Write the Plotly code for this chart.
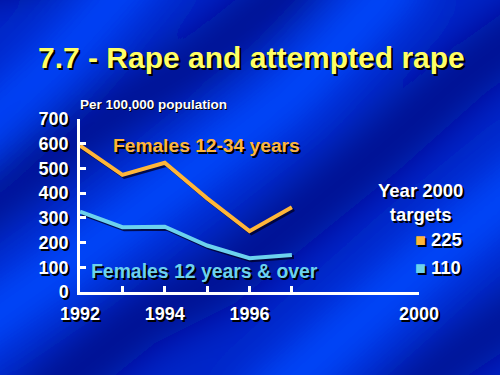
import base64
import plotly.graph_objects as go

# ---- data ----
years = [1992, 1993, 1994, 1995, 1996, 1997]
females_12_34 = [592, 474, 523, 379, 246, 343]
females_12_over = [325, 262, 264, 188, 137, 150]
target_labels = ["Females 12-34 years", "Females 12 years & over"]
targets_2000 = [225, 110]
x_tick_vals = [1992, 1993, 1994, 1995, 1996, 1997, 2000]
x_tick_text = ["1992", "", "1994", "", "1996", "", "2000"]
y_tick_vals = [0, 100, 200, 300, 400, 500, 600, 700]

ORANGE = "#FFB63A"
CYAN = "#6CD2EE"
YELLOW = "#FFFF66"
SHADOW = "2px 2px 0px #000000"
FONT = "Liberation Sans, Arial, sans-serif"

W, H = 500, 375
ML, MR, MT, MB = 80, 81, 119, 83
PW, PH = W - ML - MR, H - MT - MB

# ---- background (wavy diagonal blue gradient) ----
svg = f"""<svg xmlns='http://www.w3.org/2000/svg' width='{W}' height='{H}' viewBox='0 0 {W} {H}'>
<defs><filter id='b' x='-50%' y='-50%' width='200%' height='200%'><feGaussianBlur stdDeviation='22'/></filter></defs>
<rect width='{W}' height='{H}' fill='rgb(0,38,200)'/>
<g filter='url(#b)' fill='none' stroke-linecap='round'>
<polyline points='-60,-40 40,-60' stroke='rgb(0,8,130)' stroke-width='90'/>
<polyline points='-40,150 60,60 150,-40' stroke='rgb(0,70,255)' stroke-width='50'/>
<polyline points='-40,220 100,120 200,60 300,-20' stroke='rgb(0,10,140)' stroke-width='50'/>
<polyline points='-40,340 60,270 160,195 290,95 400,-20' stroke='rgb(0,72,255)' stroke-width='55'/>
<polyline points='40,400 140,320 220,280 300,215 380,150 470,70 540,20' stroke='rgb(0,10,140)' stroke-width='55'/>
<polyline points='260,410 350,330 430,260 540,170' stroke='rgb(0,72,255)' stroke-width='55'/>
<polyline points='380,420 450,360 540,300' stroke='rgb(0,10,140)' stroke-width='45'/>
</g></svg>"""
bg_src = "data:image/svg+xml;base64," + base64.b64encode(svg.encode()).decode()

fig = go.Figure()

# line shadows (offset by ~2px)
dx = 2 * 8 / PW
dy = 2 * 700 / PH
for vals in (females_12_34, females_12_over):
    fig.add_trace(go.Scatter(x=[v + dx for v in years], y=[v - dy for v in vals],
                             mode="lines", line=dict(color="rgba(0,0,40,0.8)", width=4),
                             hoverinfo="skip", showlegend=False))
fig.add_trace(go.Scatter(x=years, y=females_12_34, mode="lines",
                         line=dict(color=ORANGE, width=4), name=target_labels[0], showlegend=False))
fig.add_trace(go.Scatter(x=years, y=females_12_over, mode="lines",
                         line=dict(color=CYAN, width=4), name=target_labels[1], showlegend=False))

tickfont = dict(family=FONT, size=18, color="white", weight="bold", shadow=SHADOW)

fig.update_layout(
    width=W, height=H,
    margin=dict(l=ML, r=MR, t=MT, b=MB),
    paper_bgcolor="rgb(0,38,200)",
    plot_bgcolor="rgba(0,0,0,0)",
    images=[dict(source=bg_src, xref="paper", yref="paper",
                 x=-ML / PW, y=1 + MT / PH, sizex=W / PW, sizey=H / PH,
                 xanchor="left", yanchor="top", sizing="stretch", layer="below")],
    xaxis=dict(range=[1992, 2000], tickvals=x_tick_vals, ticktext=x_tick_text,
               showgrid=False, zeroline=False, showline=True, linecolor="white", linewidth=2.5,
               ticks="inside", ticklen=6, tickwidth=2.5, tickcolor="white",
               tickfont=tickfont, ticklabelstandoff=4),
    yaxis=dict(range=[0, 700], tickvals=y_tick_vals,
               showgrid=False, zeroline=False, showline=True, linecolor="white", linewidth=2.5,
               ticks="inside", ticklen=6, tickwidth=2.5, tickcolor="white",
               tickfont=tickfont, ticklabelstandoff=5),
    showlegend=False,
)

ann = []
ann.append(dict(text="7.7 - Rape and attempted rape", xref="paper", yref="paper",
                x=(251 - ML) / PW, y=1 + (MT - 57) / PH, xanchor="center", yanchor="middle",
                showarrow=False,
                font=dict(family=FONT, size=30, color=YELLOW, weight="bold", shadow=SHADOW)))
ann.append(dict(text="Per 100,000 population", xref="paper", yref="paper",
                x=(78 - ML) / PW, y=1 + (MT - 104) / PH, xanchor="left", yanchor="middle", showarrow=False,
                font=dict(family=FONT, size=13.5, color="white", weight="bold", shadow="1px 1px 0px #000")))
ann.append(dict(text=target_labels[0], xref="paper", yref="paper",
                x=(111 - ML) / PW, y=(292 - 145) / PH, xanchor="left", yanchor="middle", showarrow=False,
                font=dict(family=FONT, size=19.2, color=ORANGE, weight="bold", shadow=SHADOW)))
ann.append(dict(text=target_labels[1], xref="paper", yref="paper",
                x=(89 - ML) / PW, y=(292 - 271) / PH, xanchor="left", yanchor="middle", showarrow=False,
                font=dict(family=FONT, size=19.4, color=CYAN, weight="bold", shadow=SHADOW)))
ann.append(dict(text="Year 2000<br>targets", xref="paper", yref="paper",
                x=(420 - ML) / PW, y=(292 - 202) / PH, xanchor="center", yanchor="middle", showarrow=False,
                align="center",
                font=dict(family=FONT, size=18.5, color="white", weight="bold", shadow=SHADOW)))
for val, col, ypx in zip(targets_2000, [ORANGE, CYAN], [239, 267]):
    ann.append(dict(text=f"<span style='color:{col};font-size:18px'>■</span>\u00a0{val}",
                    xref="paper", yref="paper",
                    x=(413 - ML) / PW, y=(292 - ypx) / PH, xanchor="left", yanchor="middle",
                    showarrow=False,
                    font=dict(family=FONT, size=18.5, color="white", weight="bold", shadow=SHADOW)))
fig.update_layout(annotations=ann)

fig.write_html("out.html", config={"displayModeBar": False},
               post_script="document.body.style.margin='0';document.body.style.overflow='hidden';")
